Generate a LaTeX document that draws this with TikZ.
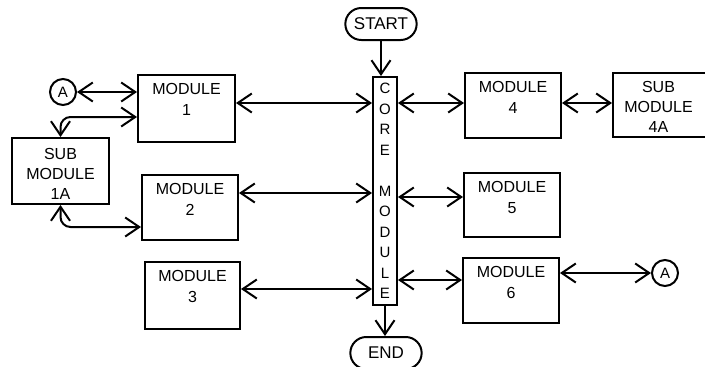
\documentclass[tikz,border=0pt]{standalone}
\usepackage{fontspec}
\setmainfont{Liberation Sans}
\usetikzlibrary{arrows.meta,shapes.misc,calc}
\tikzset{
  modbox/.style={draw, line width=2pt, minimum width=96pt, minimum height=66pt},
  modtext/.style={inner sep=0pt, align=center, font=\fontsize{16}{21}\selectfont},
  term/.style={draw, line width=2pt, rounded rectangle, minimum width=78pt, minimum height=32pt,
    font=\fontsize{17}{20}\selectfont},
  conn/.style={draw, line width=2pt, circle, minimum size=26pt, inner sep=0pt,
    font=\fontsize{15}{17}\selectfont},
  barb/.tip={Straight Barb[length=14pt,width=19pt]},
  dbl/.style={line width=2pt, barb-barb},
  one/.style={line width=2pt, -barb}
}
\begin{document}
\begin{tikzpicture}[x=1pt,y=-1pt]
\useasboundingbox (0,0) rectangle (705,367);
% start, core, end
\node[term] (start) at (381,24) {START};
\node[draw, line width=2pt, minimum width=24pt, minimum height=228pt, inner sep=0pt, align=center,
  font=\fontsize{15}{20.5}\selectfont] (core) at (385,191)
  {C\\O\\R\\E\\[20.5pt]M\\O\\D\\U\\L\\E};
\node[term] (end) at (386,353) {END};
\draw[one] (start.south) -- (start.south |- core.north);
\draw[one] (core.south) -- (core.south |- end.north);
% modules on the left
\node[modbox, minimum width=97pt, minimum height=67pt] (m1) at (186.5,108.5) {};
\node[modbox, minimum height=65pt] (m2) at (190,207.5) {};
\node[modbox, minimum width=95pt, minimum height=67pt] (m3) at (192.5,295.5) {};
\node[modbox, minimum width=97pt] (s1a) at (60.5,171) {};
\node[modtext, anchor=north] (t1) at ([yshift=-9pt]m1.north) {MODULE\\1};
\node[modtext, anchor=north] (t2) at ([yshift=-9pt]m2.north) {MODULE\\2};
\node[modtext, anchor=north] (t3) at ([yshift=-9pt]m3.north) {MODULE\\3};
\node[modtext, font=\fontsize{16}{20}\selectfont] (ts1a) at ([yshift=-3pt]s1a.center) {SUB\\MODULE\\1A};
\node[conn] (al) at (63,92) {A};
% modules on the right
\node[modbox, minimum height=65pt] (m4) at (513,105.5) {};
\node[modbox, minimum height=64pt] (m5) at (512,205) {};
\node[modbox, minimum height=65pt] (m6) at (511,290.5) {};
\node[modbox, minimum width=97pt, minimum height=64pt] (s4a) at (661.5,105) {};
\node[modtext, anchor=north] (t4) at ([yshift=-9pt]m4.north) {MODULE\\4};
\node[modtext, anchor=north] (t5) at ([yshift=-9pt]m5.north) {MODULE\\5};
\node[modtext, anchor=north] (t6) at ([yshift=-9pt]m6.north) {MODULE\\6};
\node[modtext, font=\fontsize{16}{20}\selectfont] (ts4a) at ([yshift=-2pt,xshift=-3pt]s4a.center) {SUB\\MODULE\\4A};
\node[conn] (ar) at (665,273) {A};
% connections
\draw[dbl] (al.east) -- (al.east -| m1.west);
\draw[dbl, rounded corners=10pt] (s1a.north) |- ([yshift=-8.5pt]m1.west);
\draw[dbl, rounded corners=10pt] (s1a.south) |- ([yshift=-19.5pt]m2.west);
\draw[dbl] ([yshift=5.5pt]m1.east) -- ([yshift=5.5pt]m1.east -| core.west);
\draw[dbl] ([yshift=14.5pt]m2.east) -- ([yshift=14.5pt]m2.east -| core.west);
\draw[dbl] ([yshift=6.5pt]m3.east) -- ([yshift=6.5pt]m3.east -| core.west);
\draw[dbl] ([yshift=2.5pt]m4.west -| core.east) -- ([yshift=2.5pt]m4.west);
\draw[dbl] ([yshift=8pt]m5.west -| core.east) -- ([yshift=8pt]m5.west);
\draw[dbl] ([yshift=10.5pt]m6.west -| core.east) -- ([yshift=10.5pt]m6.west);
\draw[dbl] ([yshift=2.5pt]m4.east) -- ([yshift=2.5pt]m4.east -| s4a.west);
\draw[dbl] (ar.west -| m6.east) -- (ar.west);
\end{tikzpicture}
\end{document}
